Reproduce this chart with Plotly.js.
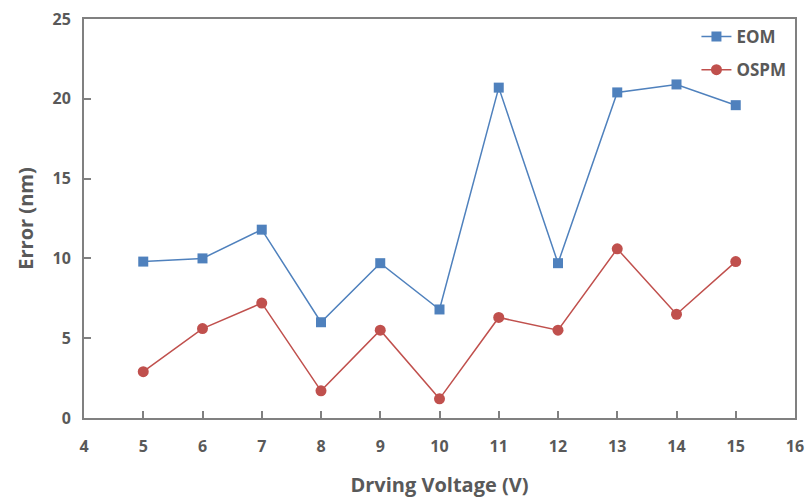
<!DOCTYPE html>
<html><head><meta charset="utf-8">
<script src="https://cdn.plot.ly/plotly-3.0.1.min.js"></script>
<style>body{margin:0;background:#fff}#c{width:806px;height:499px}</style>
</head><body><div id="c"></div>
<script>
const voltage = [5, 6, 7, 8, 9, 10, 11, 12, 13, 14, 15];
const eom = [9.8, 10.0, 11.8, 6.0, 9.7, 6.8, 20.7, 9.7, 20.4, 20.9, 19.6];
const ospm = [2.9, 5.6, 7.2, 1.7, 5.5, 1.2, 6.3, 5.5, 10.6, 6.5, 9.8];
const xTicks = [4,5,6,7,8,9,10,11,12,13,14,15,16];
const yTicks = [0,5,10,15,20,25];

const fontFam = '"Open Sans", "Noto Sans", sans-serif';
const grey = '#595959';
const traces = [
  {x: voltage, y: eom, name: 'EOM', legendgroup: 'a', mode: 'lines+markers', type: 'scatter',
   line: {color: '#4F81BD', width: 1.5}, marker: {symbol: 'square', size: 10, color: '#4F81BD'}},
  {x: voltage, y: ospm, name: 'OSPM', legendgroup: 'b', mode: 'lines+markers', type: 'scatter',
   line: {color: '#C0504D', width: 1.5}, marker: {symbol: 'circle', size: 11, color: '#C0504D'}}
];
const layout = {
  width: 806, height: 499,
  margin: {l: 84, r: 11, t: 19, b: 81},
  paper_bgcolor: '#fff', plot_bgcolor: '#fff',
  font: {family: fontFam, color: grey, size: 16},
  showlegend: true,
  legend: {x: 0.995, y: 1.0, xanchor: 'right', yanchor: 'top', bgcolor: 'rgba(0,0,0,0)',
           font: {size: 17, color: grey, weight: 'bold'}, tracegroupgap: 8},
  xaxis: {range: [4, 16], tickvals: xTicks, ticktext: xTicks.map(String),
          showgrid: false, zeroline: false, showline: true, mirror: true,
          linecolor: '#808080', linewidth: 2, ticks: 'inside', ticklen: 7, tickcolor: '#808080', tickwidth: 2,
          ticklabelstandoff: 13,
          tickfont: {size: 16, color: grey, weight: 'bold'},
          title: {text: 'Drving Voltage (V)', font: {size: 20, color: grey, weight: 'bold'}, standoff: 22}},
  yaxis: {range: [0, 25], tickvals: yTicks, ticktext: yTicks.map(String),
          showgrid: false, zeroline: false, showline: true, mirror: true,
          linecolor: '#808080', linewidth: 2, ticks: 'inside', ticklen: 7, tickcolor: '#808080', tickwidth: 2,
          ticklabelstandoff: 8,
          tickfont: {size: 16, color: grey, weight: 'bold'},
          title: {text: 'Error (nm)', font: {size: 20, color: grey, weight: 'bold'}, standoff: 14}}
};
Plotly.newPlot('c', traces, layout, {displayModeBar: false, staticPlot: true});
</script></body></html>
